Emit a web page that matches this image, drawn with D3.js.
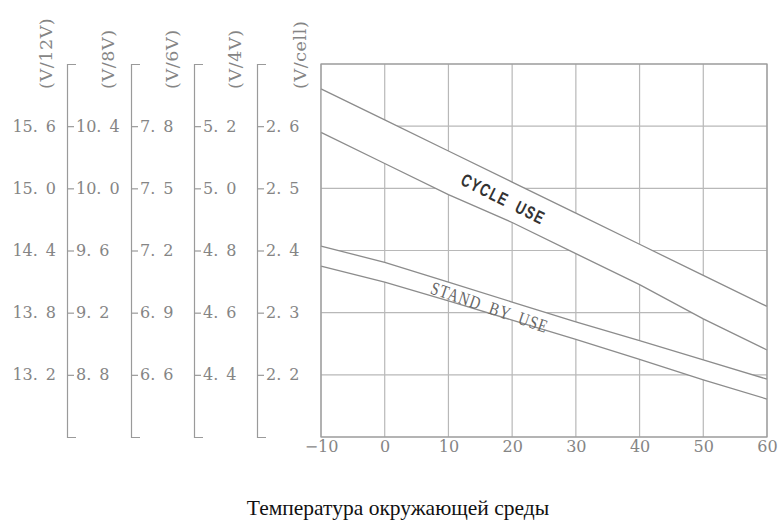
<!DOCTYPE html>
<html>
<head>
<meta charset="utf-8">
<script src="https://cdn.jsdelivr.net/npm/d3@7"></script>
<style>
  body { margin: 0; background: #fff; }
  .tick text { font-family: "DejaVu Serif", serif; font-size: 16px; fill: #858585; }
  .unit { font-family: "DejaVu Serif", serif; font-size: 17.5px; fill: #858585; letter-spacing: 0.6px; }
</style>
</head>
<body>
<div id="chart"></div>
<script>
// temperatures (°C) and charge voltage per cell
const temps = [-10, 0, 10, 20, 30, 40, 50, 60];
const cycleUpper = [2.66, 2.61, 2.56, 2.51, 2.46, 2.41, 2.36, 2.31];
const cycleLower = [2.59, 2.54, 2.49, 2.445, 2.395, 2.345, 2.29, 2.24];
const standbyUpper = [2.407, 2.381, 2.349, 2.317, 2.285, 2.255, 2.224, 2.193];
const standbyLower = [2.375, 2.349, 2.319, 2.288, 2.257, 2.225, 2.192, 2.161];

const cellTicks = [2.2, 2.3, 2.4, 2.5, 2.6];
const cellsPerUnit = [6, 4, 3, 2, 1];   // 12V, 8V, 6V, 4V, cell
const unitLabels = ["(V/12V)", "(V/8V)", "(V/6V)", "(V/4V)", "(V/cell)"];
const title = "Температура окружающей среды";

const W = 782, H = 523;
const plot = {left: 321, right: 767, top: 64, bottom: 437};
const axisX = [67, 131, 194, 257];

const svg = d3.select("#chart").append("svg")
    .attr("width", W).attr("height", H);

const x = d3.scaleLinear().domain([-10, 60]).range([plot.left, plot.right]);
const y = d3.scaleLinear().domain([2.1, 2.7]).range([plot.bottom, plot.top]);

const fmt = d => d.toFixed(1).replace(".", ".\u2002");

// scale for each battery voltage, same pixel range
const yScales = cellsPerUnit.map(k =>
    d3.scaleLinear().domain([2.1 * k, 2.7 * k]).range([plot.bottom, plot.top]));

// grid
const grid = svg.append("g").attr("stroke", "#b8b8b8").attr("stroke-width", 1.2);
grid.selectAll(".gx").data(temps).enter().append("line")
    .attr("x1", d => x(d)).attr("x2", d => x(d))
    .attr("y1", plot.top).attr("y2", plot.bottom);
grid.selectAll(".gy").data(d3.range(2.1, 2.71, 0.1)).enter().append("line")
    .attr("x1", plot.left).attr("x2", plot.right)
    .attr("y1", d => y(d)).attr("y2", d => y(d));

// bands (white, hide grid under them)
const bands = [
    {upper: cycleUpper, lower: cycleLower},
    {upper: standbyUpper, lower: standbyLower}
];
const area = d3.area()
    .x((d, i) => x(temps[i]))
    .y0(d => y(d[1]))
    .y1(d => y(d[0]));
const line = d3.line().x((d, i) => x(temps[i])).y(d => y(d));

bands.forEach(b => {
    svg.append("path")
        .datum(b.upper.map((v, i) => [v, b.lower[i]]))
        .attr("fill", "#fff")
        .attr("d", area);
    [b.upper, b.lower].forEach(s => {
        svg.append("path").datum(s)
            .attr("fill", "none")
            .attr("stroke", "#8c8c8c")
            .attr("stroke-width", 1.3)
            .attr("d", line);
    });
});

// x axis labels
svg.append("g")
    .attr("transform", "translate(0," + plot.bottom + ")")
    .call(d3.axisBottom(x).tickValues(temps).tickSize(0).tickPadding(4))
    .call(g => g.select(".domain").remove());

// 12V labels (left of first line, no ticks)
svg.append("g")
    .attr("transform", "translate(" + axisX[0] + ",0)")
    .call(d3.axisLeft(yScales[0]).tickValues(cellTicks.map(v => v * 6))
        .tickSize(0).tickPadding(11).tickFormat(fmt))
    .call(g => g.select(".domain").remove());

// bracket axes with ticks for 8V, 6V, 4V, cell
axisX.forEach((ax, i) => {
    const k = cellsPerUnit[i + 1];
    svg.append("g")
        .attr("transform", "translate(" + ax + ",0)")
        .call(d3.axisRight(yScales[i + 1])
            .tickValues(cellTicks.map(v => +(v * k).toFixed(2)))
            .tickSizeInner(7).tickSizeOuter(9).tickPadding(2).tickFormat(fmt))
        .call(g => g.selectAll("line, .domain").attr("stroke", "#9a9a9a").attr("stroke-width", 1.2));
});

// plot frame
svg.append("rect")
    .attr("x", plot.left).attr("y", plot.top)
    .attr("width", plot.right - plot.left).attr("height", plot.bottom - plot.top)
    .attr("fill", "none").attr("stroke", "#9a9a9a").attr("stroke-width", 1.2);

// unit labels
const unitX = [46, 108, 172, 235, 300];
svg.selectAll(".unit").data(unitLabels).enter().append("text")
    .attr("class", "unit")
    .attr("transform", (d, i) => "translate(" + unitX[i] + ",89) rotate(-90)")
    .attr("dy", "0.35em")
    .text(d => d);

// band labels
svg.append("text")
    .attr("transform", "translate(" + x(18.6) + "," + y(2.483) + ") rotate(26.5) scale(0.85,1.15)")
    .attr("text-anchor", "middle").attr("dy", "0.35em")
    .attr("font-family", "Liberation Sans, Arial, sans-serif")
    .attr("font-weight", "bold").attr("font-size", 15.5)
    .attr("letter-spacing", 1.5).attr("fill", "#333")
    .attr("xml:space", "preserve")
    .text("CYCLE  USE");

svg.append("text")
    .attr("transform", "translate(" + x(16.5) + "," + y(2.309) + ") rotate(19) scale(0.9,1.15)")
    .attr("text-anchor", "middle").attr("dy", "0.35em")
    .attr("font-family", "Liberation Serif, Times New Roman, serif")
    .attr("font-size", 16).attr("letter-spacing", 1.2).attr("fill", "#666")
    .attr("xml:space", "preserve")
    .text("STAND  BY  USE");

// title
svg.append("text")
    .attr("x", 398).attr("y", 515)
    .attr("text-anchor", "middle")
    .attr("font-family", "Liberation Serif, Times New Roman, serif")
    .attr("font-size", 21.5).attr("fill", "#111")
    .text(title);
</script>
</body>
</html>
